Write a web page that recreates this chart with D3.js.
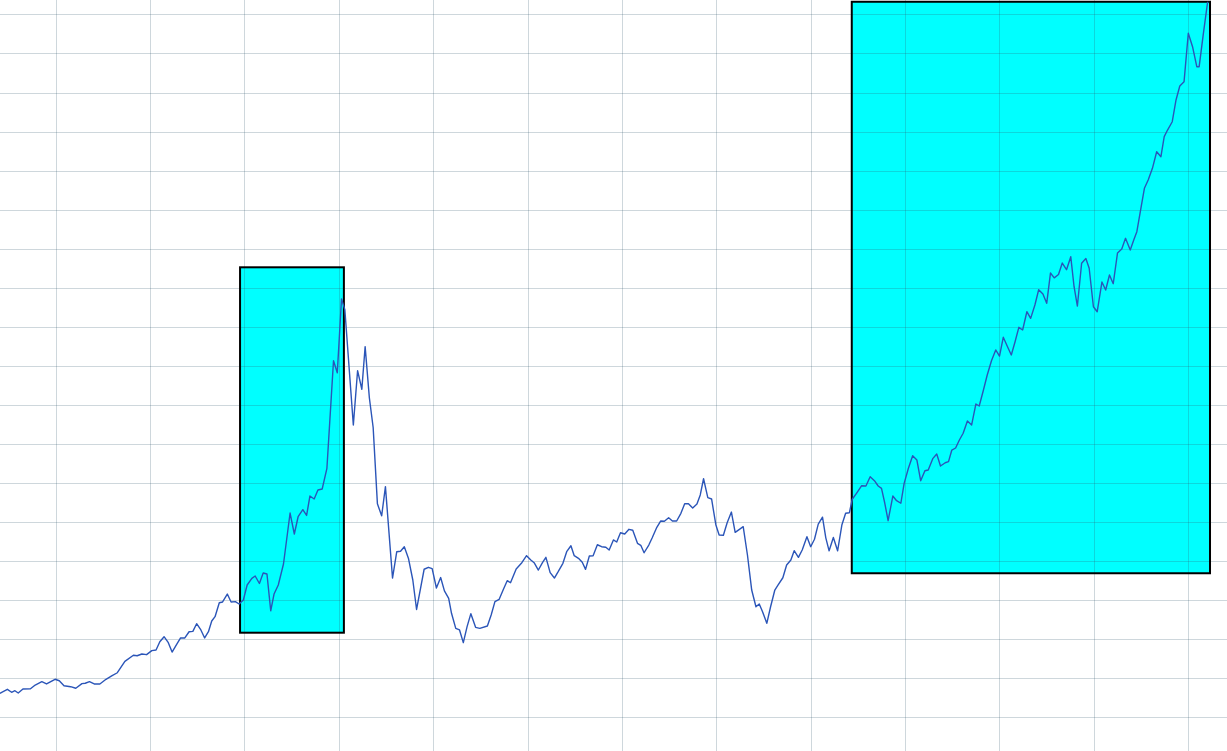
<!DOCTYPE html>
<html>
<head>
<meta charset="utf-8">
<script src="https://cdn.jsdelivr.net/npm/d3@7"></script>
<style>
  html, body { margin: 0; padding: 0; background: #ffffff; overflow: hidden; }
  svg { display: block; }
</style>
</head>
<body>
<div id="chart"></div>
<script>
// ---- Data (decimal year, index value) ----
const years = [
  1992.82,1992.98,1993.07,1993.14,1993.21,1993.31,1993.47,1993.57,1993.71,1993.81,
  1993.99,1994.08,1994.18,1994.32,1994.43,1994.56,1994.63,1994.72,1994.82,1994.94,
  1995.07,1995.19,1995.31,1995.47,1995.65,1995.73,1995.83,1995.93,1996.04,1996.13,
  1996.21,1996.30,1996.39,1996.47,1996.57,1996.65,1996.74,1996.83,1996.91,1996.99,
  1997.08,1997.16,1997.24,1997.31,1997.38,1997.47,1997.54,1997.64,1997.72,1997.81,
  1997.89,1997.98,1998.06,1998.16,1998.23,1998.32,1998.40,1998.48,1998.56,1998.63,
  1998.72,1998.83,1998.97,1999.06,1999.14,1999.24,1999.32,1999.39,1999.48,1999.56,
  1999.65,1999.75,1999.89,1999.97,2000.06,2000.13,2000.31,2000.40,2000.49,2000.56,
  2000.65,2000.73,2000.82,2000.91,2000.99,2001.14,2001.23,2001.31,2001.39,2001.48,
  2001.57,2001.65,2001.81,2001.90,2001.98,2002.07,2002.16,2002.24,2002.33,2002.39,
  2002.48,2002.56,2002.64,2002.72,2002.80,2002.90,2002.99,2003.15,2003.23,2003.31,
  2003.40,2003.49,2003.57,2003.64,2003.76,2003.88,2003.98,2004.07,2004.14,2004.23,
  2004.32,2004.39,2004.48,2004.57,2004.65,2004.75,2004.83,2004.92,2004.99,2005.08,
  2005.16,2005.23,2005.31,2005.39,2005.48,2005.57,2005.66,2005.73,2005.82,2005.89,
  2005.97,2006.06,2006.15,2006.23,2006.33,2006.40,2006.47,2006.57,2006.64,2006.74,
  2006.82,2006.90,2006.99,2007.07,2007.16,2007.25,2007.33,2007.41,2007.50,2007.59,
  2007.66,2007.73,2007.82,2007.90,2007.99,2008.06,2008.15,2008.23,2008.32,2008.40,
  2008.49,2008.57,2008.66,2008.75,2008.84,2008.91,2008.98,2009.07,2009.15,2009.24,
  2009.31,2009.41,2009.49,2009.58,2009.65,2009.74,2009.82,2009.92,2010.00,2010.08,
  2010.16,2010.25,2010.32,2010.39,2010.48,2010.57,2010.66,2010.74,2010.82,2010.88,
  2010.97,2011.08,2011.17,2011.26,2011.35,2011.43,2011.50,2011.57,2011.64,2011.74,
  2011.82,2011.91,2011.98,2012.07,2012.16,2012.25,2012.33,2012.42,2012.49,2012.59,
  2012.67,2012.75,2012.85,2012.92,2012.99,2013.07,2013.15,2013.23,2013.32,2013.41,
  2013.50,2013.57,2013.66,2013.74,2013.83,2013.92,2014.00,2014.08,2014.17,2014.25,
  2014.33,2014.41,2014.49,2014.58,2014.66,2014.75,2014.83,2014.92,2015.00,2015.08,
  2015.16,2015.25,2015.33,2015.42,2015.51,2015.58,2015.65,2015.74,2015.83,2015.90,
  2015.99,2016.07,2016.17,2016.25,2016.33,2016.41,2016.50,2016.59,2016.67,2016.77,
  2016.85,2016.91,2016.99,2017.07,2017.15,2017.24,2017.33,2017.42,2017.49,2017.56,
  2017.66,2017.74,2017.82,2017.91,2018.00,2018.09,2018.18,2018.23,2018.32,2018.41
];
const values = [
  646,687,657,673,649,690,693,731,765,742,
  790,775,724,714,698,745,749,765,742,742,
  790,824,857,974,1036,1031,1049,1042,1083,1090,
  1175,1226,1165,1069,1151,1213,1213,1277,1281,1359,
  1295,1213,1277,1387,1431,1574,1582,1663,1582,1585,
  1561,1602,1756,1824,1848,1771,1879,1868,1492,1663,
  1756,1971,2493,2278,2455,2527,2468,2667,2637,2729,
  2739,2951,4053,3930,4687,4576,3395,3951,3761,4197,
  3671,3369,2588,2464,2763,1827,2097,2101,2148,2024,
  1807,1505,1917,1937,1923,1725,1832,1696,1618,1466,
  1312,1295,1165,1329,1462,1322,1312,1336,1448,1585,
  1609,1712,1800,1779,1920,1984,2056,2012,1984,1909,
  1988,2039,1882,1827,1892,1978,2097,2158,2056,2029,
  1988,1916,2053,2056,2168,2148,2142,2114,2217,2196,
  2291,2278,2326,2316,2183,2162,2086,2165,2237,2347,
  2411,2408,2445,2411,2411,2490,2588,2588,2544,2585,
  2678,2844,2650,2637,2373,2268,2265,2394,2503,2295,
  2326,2353,2063,1704,1533,1561,1482,1363,1533,1704,
  1756,1830,1961,2012,2107,2039,2114,2250,2148,2224,
  2380,2450,2239,2106,2242,2106,2370,2490,2496,2634,
  2695,2773,2770,2865,2824,2770,2746,2593,2414,2667,
  2619,2593,2797,2951,3080,3036,2824,2926,2934,3053,
  3097,2975,3008,3019,3138,3159,3241,3310,3436,3395,
  3610,3589,3753,3907,4053,4163,4101,4293,4197,4112,
  4248,4395,4368,4555,4487,4624,4780,4736,4641,4951,
  4902,4936,5054,4985,5118,4811,4613,5051,5100,5000,
  4606,4555,4859,4777,4931,4842,5156,5197,5307,5187,
  5297,5375,5597,5819,5904,6024,6194,6143,6348,6416,
  6501,6724,6867,6911,7407,7270,7065,7065,7407,7730
];

// highlighted periods: [x0, x1, y0, y1]
const highlightX0 = [1997.91, 2010.87];
const highlightX1 = [2000.11, 2018.46];
const highlightY0 = [1267, 1876];
const highlightY1 = [5010, 7730];

// grid ticks
const xTicks = d3.range(1994, 2019, 2);
const yTicks = d3.range(0, 7601, 400);

// ---- Layout ----
const W = 1227, H = 751;
const svg = d3.select("#chart").append("svg")
  .attr("width", W).attr("height", H)
  .style("background", "#ffffff");

const x = d3.scaleLinear().domain([1992.824, 2018.82]).range([0, W]);
const y = d3.scaleLinear().domain([0, 7748]).range([756.4, 0]);

const data = years.map((yr, i) => ({ x: yr, y: values[i] }));
const boxes = highlightX0.map((v, i) => ({
  x0: v, x1: highlightX1[i], y0: highlightY0[i], y1: highlightY1[i]
}));

// highlight rectangles (fill)
svg.append("g").selectAll("rect").data(boxes).join("rect")
  .attr("x", d => x(d.x0))
  .attr("y", d => y(d.y1))
  .attr("width", d => x(d.x1) - x(d.x0))
  .attr("height", d => y(d.y0) - y(d.y1))
  .attr("fill", "#00ffff");

// grid via axes
const gridColor = "rgba(50,88,110,0.24)";
const gx = svg.append("g")
  .attr("transform", `translate(0,${H})`)
  .call(d3.axisBottom(x).tickValues(xTicks).tickSize(-H).tickFormat(""));
gx.select(".domain").remove();
gx.selectAll(".tick line").attr("stroke", gridColor).attr("stroke-width", 1)
  .attr("shape-rendering", "crispEdges");

const gy = svg.append("g")
  .call(d3.axisLeft(y).tickValues(yTicks).tickSize(-W).tickFormat(""));
gy.select(".domain").remove();
gy.selectAll(".tick line").attr("stroke", gridColor).attr("stroke-width", 1)
  .attr("shape-rendering", "crispEdges");

// highlight rectangles (border)
svg.append("g").selectAll("rect").data(boxes).join("rect")
  .attr("x", d => x(d.x0))
  .attr("y", d => y(d.y1))
  .attr("width", d => x(d.x1) - x(d.x0))
  .attr("height", d => y(d.y0) - y(d.y1))
  .attr("fill", "none")
  .attr("stroke", "#000000")
  .attr("stroke-width", 2);

// line
const line = d3.line().x(d => x(d.x)).y(d => y(d.y));
svg.append("path")
  .datum(data)
  .attr("fill", "none")
  .attr("stroke", "#2b55b8")
  .attr("stroke-width", 1.4)
  .attr("stroke-linejoin", "round")
  .attr("d", line);
</script>
</body>
</html>
